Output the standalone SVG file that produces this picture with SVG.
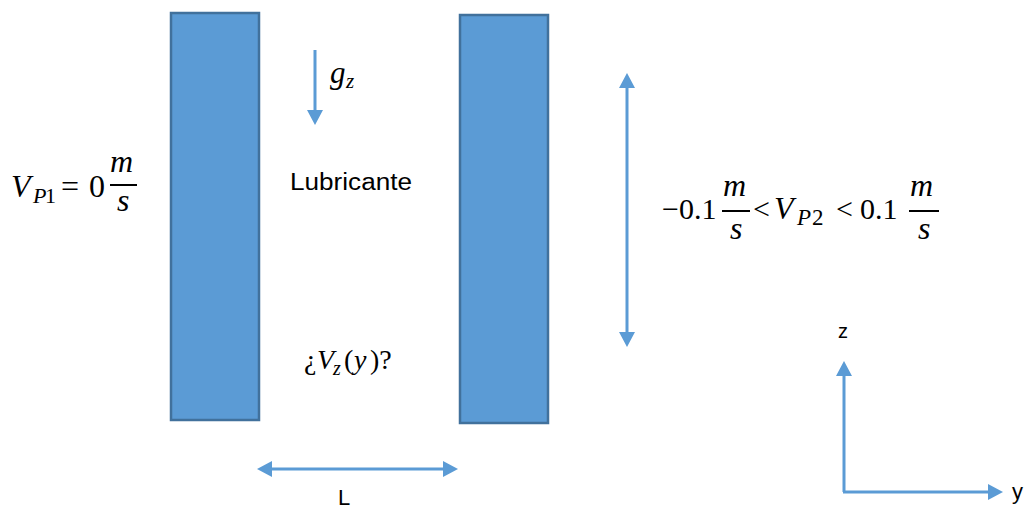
<svg xmlns="http://www.w3.org/2000/svg" width="1027" height="508" viewBox="0 0 1027 508">
<style>
.plate{fill:#5B9BD5;stroke:#41719C;stroke-width:2.5}
.ln{stroke:#5B9BD5;stroke-width:3;fill:none}
.ah{fill:#5B9BD5}
.sans{font-family:"Liberation Sans",Arial,sans-serif;fill:#000}
.m{font-family:"Liberation Serif","DejaVu Serif",serif;fill:#000}
.mi{font-family:"Liberation Serif","DejaVu Serif",serif;font-style:italic;fill:#000}
</style>
<rect width="1027" height="508" fill="#fff"/>
<g id="plate1"><rect class="plate" x="171" y="13" width="88" height="407"/></g>
<g id="plate2"><rect class="plate" x="460" y="15" width="88" height="408"/></g>
<g id="connectors">
  <line class="ln" x1="315" y1="50" x2="315" y2="112"/>
  <polygon class="ah" points="307,110 323,110 315,125"/>
  <line class="ln" x1="627" y1="86" x2="627" y2="334"/>
  <polygon class="ah" points="619,88 635,88 627,73"/>
  <polygon class="ah" points="619,332 635,332 627,347"/>
  <line class="ln" x1="270" y1="469" x2="445" y2="469"/>
  <polygon class="ah" points="272,461 272,477 257,469"/>
  <polygon class="ah" points="443,461 443,477 458,469"/>
  <line class="ln" x1="844" y1="492" x2="844" y2="374"/>
  <polygon class="ah" points="836,376 852,376 844,361"/>
  <line class="ln" x1="843" y1="492" x2="990" y2="492"/>
  <polygon class="ah" points="988,484 988,500 1003,492"/>
</g>
<g id="gz"><text class="mi" x="330" y="83" font-size="31">g</text><text class="mi" x="346" y="88" font-size="21">z</text></g>
<g id="vp1">
  <text class="mi" x="11" y="197" font-size="32">V</text>
  <text class="mi" x="33" y="203" font-size="22">P</text><text class="m" x="45" y="203" font-size="22">1</text>
  <text class="m" x="61" y="197" font-size="32">=</text>
  <text class="m" x="89" y="197" font-size="32">0</text>
  <text class="mi" x="110" y="172" font-size="32">m</text>
  <line x1="110" y1="185" x2="137" y2="185" stroke="#000" stroke-width="2"/>
  <text class="mi" x="117" y="211" font-size="32">s</text>
</g>
<g id="lubricante"><text class="sans" x="290" y="190" font-size="23.5" textLength="122" lengthAdjust="spacingAndGlyphs">Lubricante</text></g>
<g id="vz">
  <text class="m" x="304" y="369" font-size="28">¿</text>
  <text class="mi" x="317" y="369" font-size="28">V</text>
  <text class="mi" x="333" y="375" font-size="20">z</text>
  <text class="m" x="344" y="369" font-size="28">(</text>
  <text class="mi" x="354" y="369" font-size="28">y</text>
  <text class="m" x="370" y="369" font-size="28">)?</text>
</g>
<g id="vp2">
  <text class="m" x="662" y="219" font-size="30">−0.1</text>
  <text class="mi" x="723" y="196" font-size="32">m</text>
  <line x1="722" y1="211" x2="750" y2="211" stroke="#000" stroke-width="2"/>
  <text class="mi" x="730" y="239" font-size="32">s</text>
  <text class="m" x="753" y="219" font-size="30">&lt;</text>
  <text class="mi" x="774" y="219" font-size="32">V</text>
  <text class="mi" x="797" y="225" font-size="23">P</text><text class="m" x="812" y="225" font-size="23">2</text>
  <text class="m" x="836" y="219" font-size="30">&lt;</text>
  <text class="m" x="860" y="219" font-size="30">0.1</text>
  <text class="mi" x="910" y="196" font-size="32">m</text>
  <line x1="909" y1="211" x2="939" y2="211" stroke="#000" stroke-width="2"/>
  <text class="mi" x="918" y="239" font-size="32">s</text>
</g>
<g id="labels">
  <text class="sans" x="338" y="505" font-size="22">L</text>
  <text class="sans" x="838" y="338" font-size="20">z</text>
  <text class="sans" x="1012" y="499" font-size="22">y</text>
</g>
</svg>
